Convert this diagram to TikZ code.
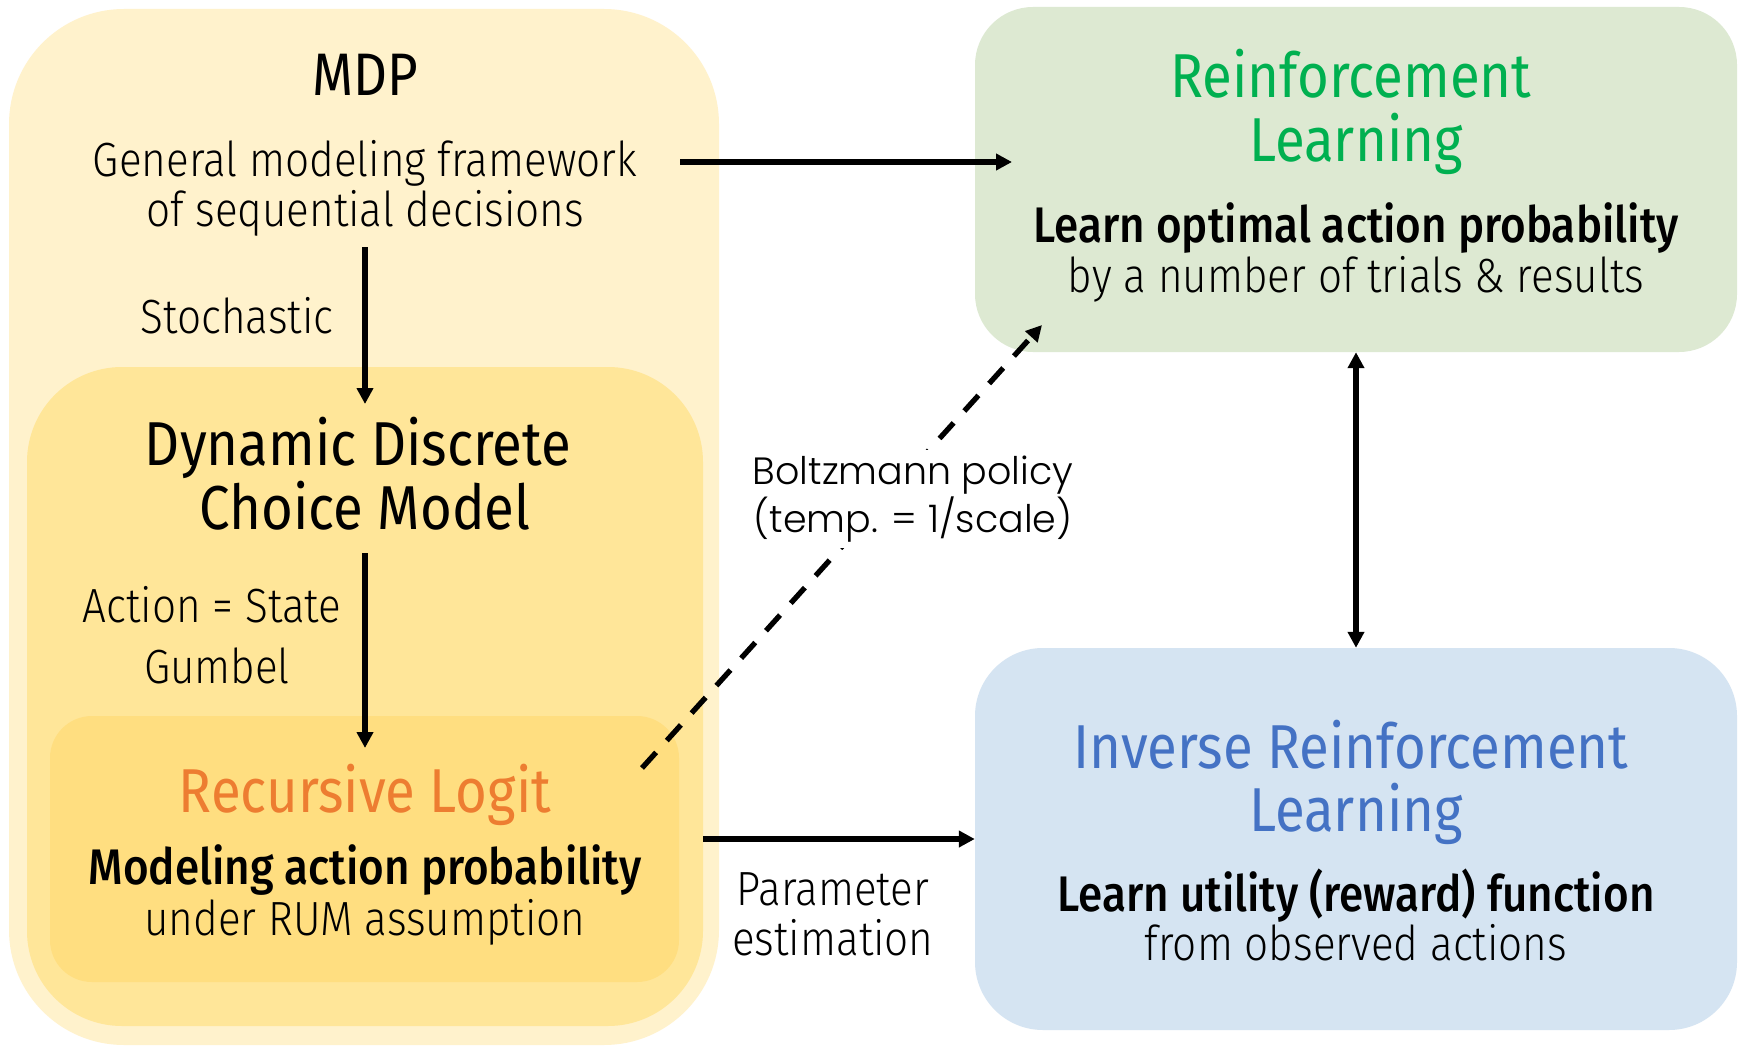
\documentclass[tikz,border=0pt]{standalone}
\usepackage{fontspec}
\setmainfont{Fira Sans Light}[FakeStretch=0.88]
\newfontfamily\regfont{Fira Sans}[FakeStretch=0.88]
\newfontfamily\semifont{Fira Sans Medium}[FakeStretch=0.88]
\newfontfamily\geofont{Poppins Light}
\usetikzlibrary{arrows.meta}
\definecolor{ylA}{HTML}{FFF2CC}
\definecolor{ylB}{HTML}{FFE699}
\definecolor{ylC}{HTML}{FFDE80}
\definecolor{grbox}{HTML}{DDE9D2}
\definecolor{blbox}{HTML}{D5E4F2}
\definecolor{grtxt}{HTML}{00B050}
\definecolor{bltxt}{HTML}{4472C4}
\definecolor{ortxt}{HTML}{ED7D31}
\tikzset{
  box/.style={draw=none, inner sep=0pt},
  txt/.style={inner sep=0pt, anchor=base},
  body/.style={txt, font=\fontsize{48}{50}\selectfont},
  ttl/.style={txt, font=\regfont\fontsize{62}{64}\selectfont},
  semi/.style={txt, font=\semifont\fontsize{50}{52}\selectfont},
  arr/.style={line width=5.3pt, -{Triangle[length=16pt,width=16pt]}},
  dbl/.style={line width=5.3pt, {Triangle[length=16pt,width=16pt]}-{Triangle[length=16pt,width=16pt]}},
  dsh/.style={line width=5.3pt, dash pattern=on 21pt off 16pt, -{Triangle[length=16pt,width=16pt]}},
}
\begin{document}
\begin{tikzpicture}[x=1pt,y=-1pt]
\useasboundingbox[fill=white] (0,0) rectangle (1746,1046);
% boxes
\node[box, fill=ylA, rounded corners=115pt, minimum width=710pt, minimum height=1036pt] (mdp) at (364,527) {};
\node[box, fill=ylB, rounded corners=95pt, minimum width=676pt, minimum height=659pt] (ddcm) at (365,696.5) {};
\node[box, fill=ylC, rounded corners=42pt, minimum width=629pt, minimum height=266pt] (rlog) at (364.5,849) {};
\node[box, fill=grbox, rounded corners=58pt, minimum width=762pt, minimum height=345pt] (rl) at (1356,179.5) {};
\node[box, fill=blbox, rounded corners=68pt, minimum width=762pt, minimum height=382pt] (irl) at (1356,839) {};
% left column texts
\node[txt, font=\regfont\fontsize{60}{62}\selectfont] (mdpt) at (365,96) {MDP};
\node[body] (mdpd1) at (365,176) {General modeling framework};
\node[body] (mdpd2) at (365,226) {of sequential decisions};
\node[body] (stoch) at (237,333) {Stochastic};
\node[ttl] (ddcm1) at (358,465) {Dynamic Discrete};
\node[ttl] (ddcm2) at (365,529) {Choice Model};
\node[body] (aes) at (212,622) {Action = State};
\node[body] (gumb) at (217,683) {Gumbel};
\node[ttl, text=ortxt] (rlt) at (365,812) {Recursive Logit};
\node[semi] (rld1) at (365,884) {Modeling action probability};
\node[body] (rld2) at (365,935) {under RUM assumption};
% right column texts
\node[ttl, text=grtxt] (rlt1) at (1351,98) {Reinforcement};
\node[ttl, text=grtxt] (rlt2) at (1356,161) {Learning};
\node[semi] (rld1r) at (1356,242) {Learn optimal action probability};
\node[body] (rld2r) at (1356,292) {by a number of trials \& results};
\node[ttl, text=bltxt] (irlt1) at (1351,768) {Inverse Reinforcement};
\node[ttl, text=bltxt] (irlt2) at (1356,831) {Learning};
\node[semi] (irld1) at (1356,911) {Learn utility (reward) function};
\node[body] (irld2) at (1356,960) {from observed actions};
% middle labels
\node[body] (par1) at (833,905) {Parameter};
\node[body] (par2) at (833,955) {estimation};
% connectors
\coordinate (h1s) at (680,162);
\coordinate (h1e) at (1012,162);
\draw[arr] (h1s) -- (h1e);
\coordinate (v1s) at (365,247);
\coordinate (v1e) at (365,404);
\draw[arr] (v1s) -- (v1e);
\coordinate (v2s) at (365,553);
\coordinate (v2e) at (365,748);
\draw[arr] (v2s) -- (v2e);
\draw[arr] (ddcm.east |- irl.west) -- (irl.west);
\draw[dbl] (rl.south) -- (irl.north);
\coordinate (ds) at (642,768);
\coordinate (de) at (1042,325);
\draw[dsh] (ds) -- (de);
\node[fill=white, inner sep=6pt, align=center, font=\geofont\fontsize{38}{48}\selectfont] (boltz) at (913,499) {Boltzmann policy\\(temp. = 1/scale)};
\end{tikzpicture}
\end{document}
